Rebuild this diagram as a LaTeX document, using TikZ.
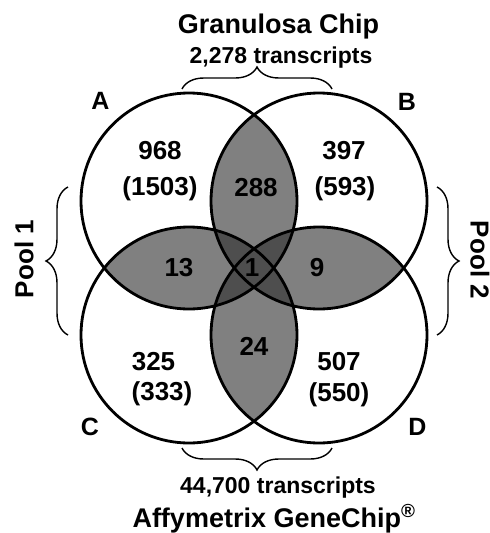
\documentclass[tikz,border=0pt]{standalone}
\usepackage{fontspec}
\setmainfont{Liberation Sans}
\usetikzlibrary{decorations.pathreplacing}
\definecolor{lensgray}{RGB}{128,128,128}
\definecolor{coregray}{RGB}{78,78,78}
\tikzset{
  ring/.style={draw=black, line width=2.8pt},
  curly/.style={draw=black, line width=1.4pt, decorate,
    decoration={brace, amplitude=22pt}},
  num/.style={font=\bfseries\fontsize{26}{26}\selectfont, inner sep=0pt, anchor=base},
  setlabel/.style={font=\bfseries\fontsize{25}{25}\selectfont, inner sep=0pt, anchor=base},
  bigtitle/.style={font=\bfseries\fontsize{27}{27}\selectfont, inner sep=0pt, anchor=base},
  subtitle/.style={font=\bfseries\fontsize{23}{23}\selectfont, inner sep=0pt, anchor=base},
  pool/.style={font=\bfseries\fontsize{26}{26}\selectfont, inner sep=0pt, anchor=center},
}
\begin{document}
\begin{tikzpicture}[x=1pt, y=-1pt]
\useasboundingbox (0,0) rectangle (490,533);
\fill[white] (0,0) rectangle (490,533);

% circle centres
\coordinate (A) at (189,201);
\coordinate (B) at (319,201);
\coordinate (C) at (189,335);
\coordinate (D) at (319,335);
\def\rr{108pt}

% pairwise overlaps of neighbouring sets
\begin{scope}
  \clip (A) circle[radius=\rr];
  \fill[lensgray] (B) circle[radius=\rr];
  \fill[lensgray] (C) circle[radius=\rr];
\end{scope}
\begin{scope}
  \clip (D) circle[radius=\rr];
  \fill[lensgray] (B) circle[radius=\rr];
  \fill[lensgray] (C) circle[radius=\rr];
\end{scope}
% diagonal overlaps (central star)
\begin{scope}
  \clip (A) circle[radius=\rr];
  \fill[coregray] (D) circle[radius=\rr];
\end{scope}
\begin{scope}
  \clip (B) circle[radius=\rr];
  \fill[coregray] (C) circle[radius=\rr];
\end{scope}

% outlines
\foreach \c in {A,B,C,D} \draw[ring] (\c) circle[radius=\rr];

% braces
\coordinate (tl) at (182,89);  \coordinate (tr) at (332,89);
\coordinate (bl) at (182,448); \coordinate (br) at (332,448);
\coordinate (lt) at (68,187);  \coordinate (lb) at (68,335);
\coordinate (rt) at (437,187); \coordinate (rb) at (437,335);
\draw[curly] (tl) -- (tr);
\draw[curly] (br) -- (bl);
\draw[curly] (lb) -- (lt);
\draw[curly] (rt) -- (rb);

% titles
\node[bigtitle] (gtitle) at (278.5,33) {Granulosa Chip};
\node[subtitle] (gcount) at (281,63) {2,278 transcripts};
\node[subtitle] (acount) at (278,493) {44,700 transcripts};
\node[bigtitle] (atitle) at (274,527) {Affymetrix GeneChip\textsuperscript{®}};
\node[pool, rotate=90] (pool1) at (24,259) {Pool 1};
\node[pool, rotate=-90] (pool2) at (480,260) {Pool 2};

% set labels
\node[setlabel] (la) at (100.5,109.5) {A};
\node[setlabel] (lb2) at (407,110) {B};
\node[setlabel] (lc) at (90,435) {C};
\node[setlabel] (ld) at (417.5,435) {D};

% counts
\node[num] (nA) at (160,159.3) {968};
\node[num] (nAp) at (160,195.3) {(1503)};
\node[num] (nB) at (344,159.3) {397};
\node[num] (nBp) at (345,195.3) {(593)};
\node[num] (nAB) at (256,196.3) {288};
\node[num] (nAC) at (179,276.3) {13};
\node[num] (nABCD) at (252,276.3) {1};
\node[num] (nBD) at (317,276.3) {9};
\node[num] (nCD) at (254,355.3) {24};
\node[num] (nC) at (153.5,370.3) {325};
\node[num] (nCp) at (162,400.8) {(333)};
\node[num] (nD) at (339,370.3) {507};
\node[num] (nDp) at (339,401) {(550)};
\end{tikzpicture}
\end{document}
